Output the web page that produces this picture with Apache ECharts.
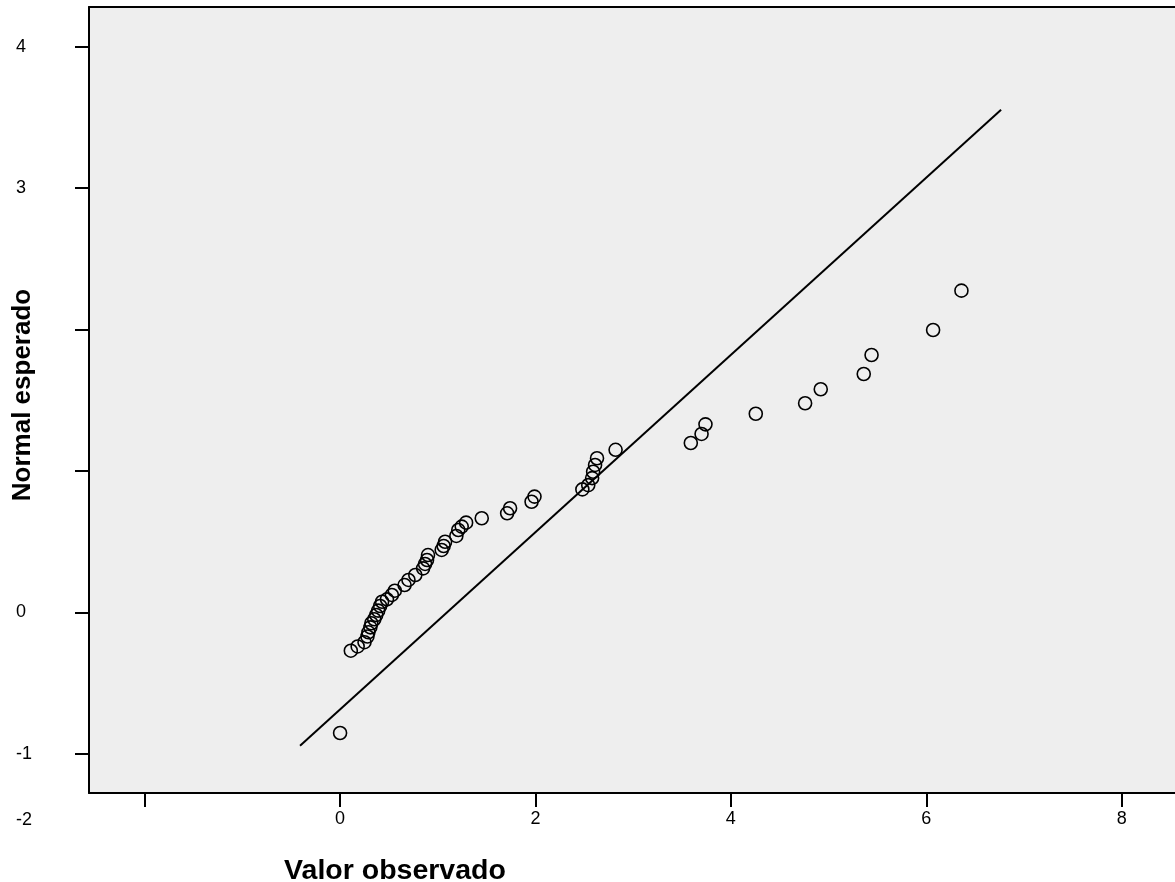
<!DOCTYPE html>
<html><head><meta charset="utf-8">
<script src="https://cdn.jsdelivr.net/npm/echarts@6/dist/echarts.min.js"></script>
<style>html,body{margin:0;padding:0;background:#fff}#c{width:1175px;height:882px}</style>
</head><body><div id="c"></div>
<script>
const observed = [0.00, 0.11, 0.18, 0.25, 0.28, 0.29, 0.31, 0.32, 0.35, 0.37, 0.39, 0.41, 0.43, 0.48, 0.53, 0.56, 0.66, 0.70, 0.77, 0.85, 0.87, 0.89, 0.90, 1.04, 1.06, 1.075, 1.19, 1.21, 1.245, 1.29, 1.45, 1.71, 1.74, 1.96, 1.99, 2.48, 2.54, 2.58, 2.59, 2.61, 2.63, 2.82, 3.59, 3.70, 3.74, 4.255, 4.76, 4.92, 5.36, 5.44, 6.07, 6.36];
const expected = [-0.852, -0.27, -0.24, -0.21, -0.17, -0.14, -0.105, -0.076, -0.048, -0.018, 0.013, 0.046, 0.076, 0.093, 0.124, 0.154, 0.194, 0.23, 0.265, 0.312, 0.343, 0.371, 0.406, 0.442, 0.47, 0.50, 0.541, 0.583, 0.607, 0.635, 0.666, 0.701, 0.737, 0.783, 0.819, 0.87, 0.90, 0.95, 0.995, 1.043, 1.09, 1.15, 1.198, 1.262, 1.33, 1.405, 1.479, 1.578, 1.686, 1.82, 1.997, 2.275];
const lineX = [-0.41, 6.766];
const lineY = [-0.942, 3.553];
const xTicks = [-2, 0, 2, 4, 6, 8];
const xTickLabels = [0, 2, 4, 6, 8];
const yTicks = [-1, 0, 1, 2, 3, 4];
const yTickLabels = [-1, 0, 3, 4];
const xTitle = 'Valor observado';
const yTitle = 'Normal esperado';
const strayLabel = '-2';

const FONT = 'Arial, "Liberation Sans", sans-serif';
const X_MIN = -2.57, X_MAX = 8.546;
const chart = echarts.init(document.getElementById('c'));
chart.setOption({
  animation: false,
  backgroundColor: '#ffffff',
  grid: {
    left: 89, top: 7, right: 0, bottom: 89,
    show: true, backgroundColor: '#eeeeee', borderWidth: 0
  },
  xAxis: [{
    type: 'value', min: X_MIN, max: X_MAX,
    axisLine: { show: true, onZero: false, lineStyle: { color: '#000', width: 2 } },
    axisTick: { show: true, length: 14, customValues: xTicks, lineStyle: { color: '#000', width: 2 } },
    axisLabel: { customValues: xTickLabels, margin: 17, color: '#000', fontSize: 18, fontFamily: FONT },
    splitLine: { show: false }
  }, {
    type: 'value', position: 'top', min: X_MIN, max: X_MAX,
    axisLine: { show: true, onZero: false, lineStyle: { color: '#000', width: 2 } },
    axisTick: { show: false }, axisLabel: { show: false }, splitLine: { show: false }
  }],
  yAxis: {
    type: 'value', min: -1.276, max: 4.28,
    axisLine: { show: true, onZero: false, lineStyle: { color: '#000', width: 2 } },
    axisTick: { show: true, length: 14, customValues: yTicks, lineStyle: { color: '#000', width: 2 } },
    axisLabel: { customValues: yTickLabels, margin: 73, align: 'left', padding: [6, 0, 0, 0], color: '#000', fontSize: 18, fontFamily: FONT },
    splitLine: { show: false }
  },
  graphic: [
    { type: 'text', x: 395, y: 871, style: { text: xTitle, font: 'bold 28.5px ' + FONT, fill: '#000', align: 'center', verticalAlign: 'middle' } },
    { type: 'text', x: 23, y: 395, rotation: Math.PI / 2, style: { text: yTitle, font: 'bold 26px ' + FONT, fill: '#000', align: 'center', verticalAlign: 'middle' } },
    { type: 'text', x: 16, y: 820, style: { text: strayLabel, font: '18px ' + FONT, fill: '#000', align: 'left', verticalAlign: 'middle' } }
  ],
  series: [
    {
      type: 'line', silent: true, symbol: 'none',
      data: lineX.map((x, i) => [x, lineY[i]]),
      lineStyle: { color: '#000', width: 2 }
    },
    {
      type: 'scatter', symbol: 'circle', symbolSize: 13,
      data: observed.map((x, i) => [x, expected[i]]),
      itemStyle: { color: 'rgba(0,0,0,0)', borderColor: '#000', borderWidth: 1.6, opacity: 1 }
    }
  ]
});
</script></body></html>
